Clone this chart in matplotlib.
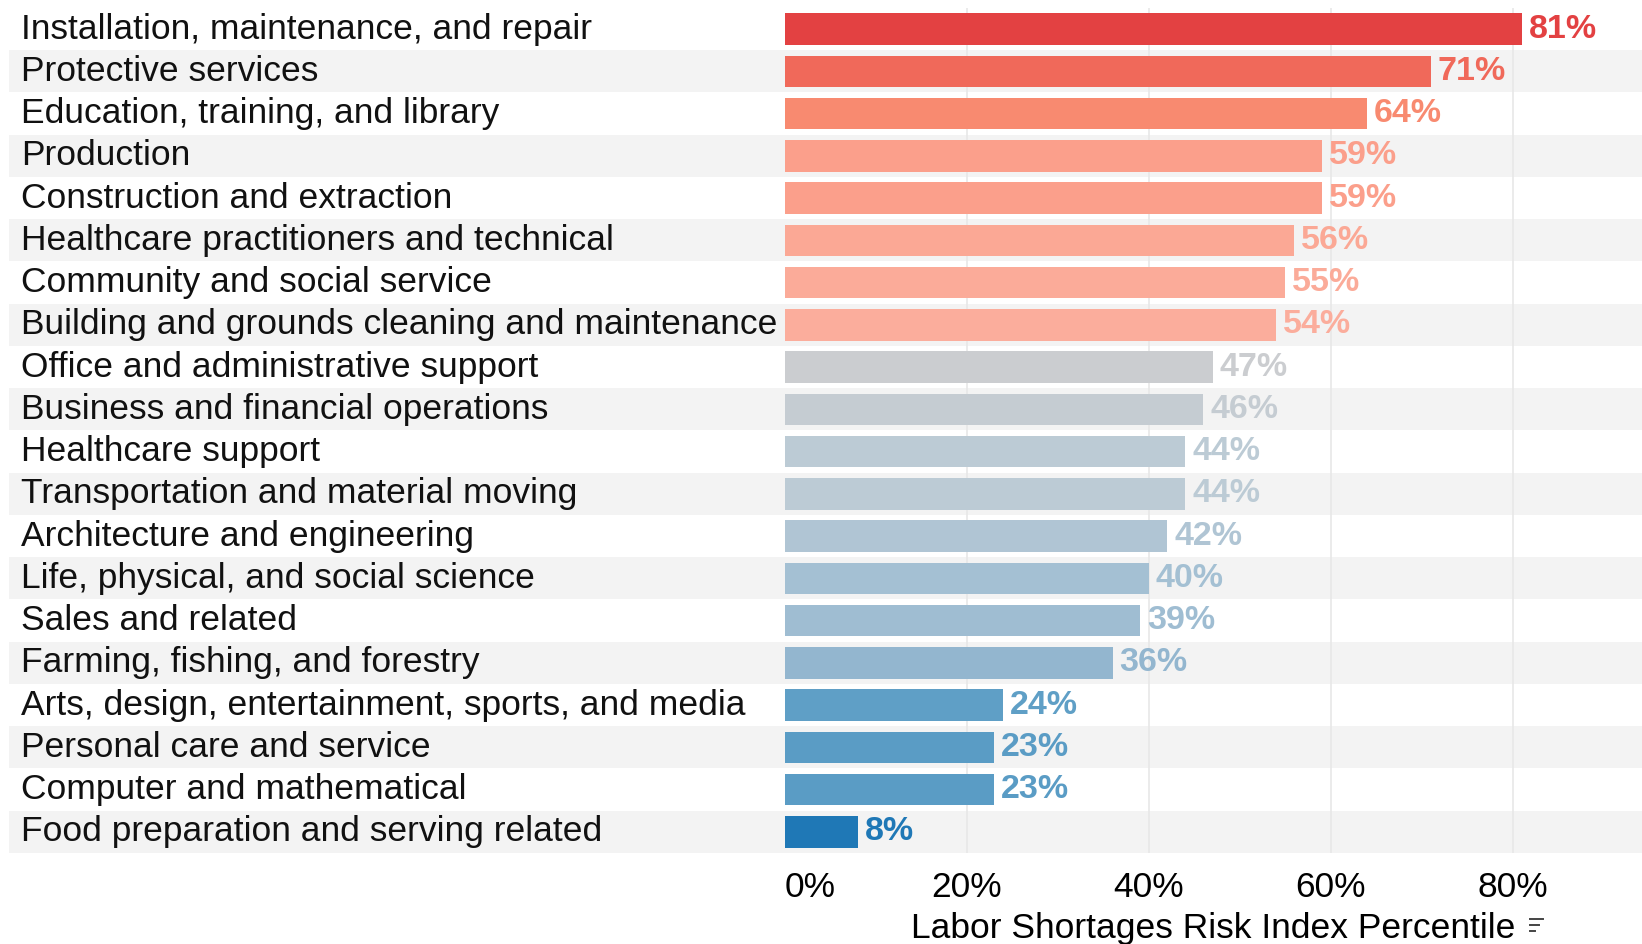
import matplotlib
matplotlib.use("Agg")
import matplotlib.pyplot as plt
from matplotlib.colors import LinearSegmentedColormap
from matplotlib import font_manager
import matplotlib.transforms as mtransforms

categories = [
    "Installation, maintenance, and repair",
    "Protective services",
    "Education, training, and library",
    "Production",
    "Construction and extraction",
    "Healthcare practitioners and technical",
    "Community and social service",
    "Building and grounds cleaning and maintenance",
    "Office and administrative support",
    "Business and financial operations",
    "Healthcare support",
    "Transportation and material moving",
    "Architecture and engineering",
    "Life, physical, and social science",
    "Sales and related",
    "Farming, fishing, and forestry",
    "Arts, design, entertainment, sports, and media",
    "Personal care and service",
    "Computer and mathematical",
    "Food preparation and serving related",
]
values = [81, 71, 64, 59, 59, 56, 55, 54, 47, 46, 44, 44, 42, 40, 39, 36, 24, 23, 23, 8]
ticks = [0, 20, 40, 60, 80]

# red-blue diverging palette, grey around the middle
cmap = LinearSegmentedColormap.from_list("rdbu_div", [
    (0.00, "#1a74b3"),
    (0.08, "#1f78b6"),
    (0.23, "#5b9dc5"),
    (0.36, "#93b6cf"),
    (0.40, "#a4c0d3"),
    (0.44, "#bccbd5"),
    (0.47, "#cbcdd0"),
    (0.54, "#fbad9c"),
    (0.59, "#fba08c"),
    (0.64, "#f88a70"),
    (0.71, "#f0695a"),
    (0.81, "#e34142"),
    (1.00, "#d62f33"),
])

names = {f.name for f in font_manager.fontManager.ttflist}
body_font = "Liberation Sans" if "Liberation Sans" in names else "DejaVu Sans"

fig = plt.figure(figsize=(16.42, 9.44), dpi=100)
ax = fig.add_axes([785 / 1642, 1 - 853 / 944, 857 / 1642, 845 / 944])
ax.set_xlim(0, 94.2)
ax.set_ylim(len(values) - 0.5, -0.5)

# alternating row bands reaching under the labels
for i in range(len(values)):
    if i % 2 == 1:
        ax.axhspan(i - 0.5, i + 0.5, xmin=-0.905, xmax=1, color="#f3f3f3",
                   zorder=0, clip_on=False, lw=0)

for t in ticks[1:]:
    ax.axvline(t, color="#e8e8e8", lw=1.2, zorder=1)

y = list(range(len(values)))
colors = [cmap(v / 100) for v in values]
ax.barh(y, values, height=0.74, color=colors, zorder=2)

for yi, v, c in zip(y, values, colors):
    ax.annotate(f"{v}%", (v, yi), xytext=(5, 0), textcoords="offset points",
                ha="left", va="center", fontsize=24.5, fontweight="bold",
                family=body_font, color=c, zorder=3)

lab_tr = mtransforms.blended_transform_factory(ax.transAxes, ax.transData)
for yi, name in zip(y, categories):
    ax.text(-0.891, yi, name, transform=lab_tr, ha="left", va="center",
            fontsize=25.5, family=body_font, color="#111111")

ax.set_xticks(ticks)
ax.set_xticklabels([f"{t}%" for t in ticks], fontsize=25.5, family=body_font)
ax.get_xticklabels()[0].set_horizontalalignment("left")
ax.tick_params(axis="x", length=0, pad=13)
ax.set_yticks([])
ax.set_xlabel("Labor Shortages Risk Index Percentile", fontsize=25.5,
              family=body_font, labelpad=6)
for s in ax.spines.values():
    s.set_visible(False)

# little sort glyph after the axis title
for k, w in enumerate([0.0085, 0.006, 0.0035]):
    yy = 0.027 - k * 0.0065
    fig.add_artist(plt.Line2D([0.9315, 0.9315 + w], [yy, yy],
                              color="#444444", lw=1.4))

fig.savefig("out.png", dpi=100)
